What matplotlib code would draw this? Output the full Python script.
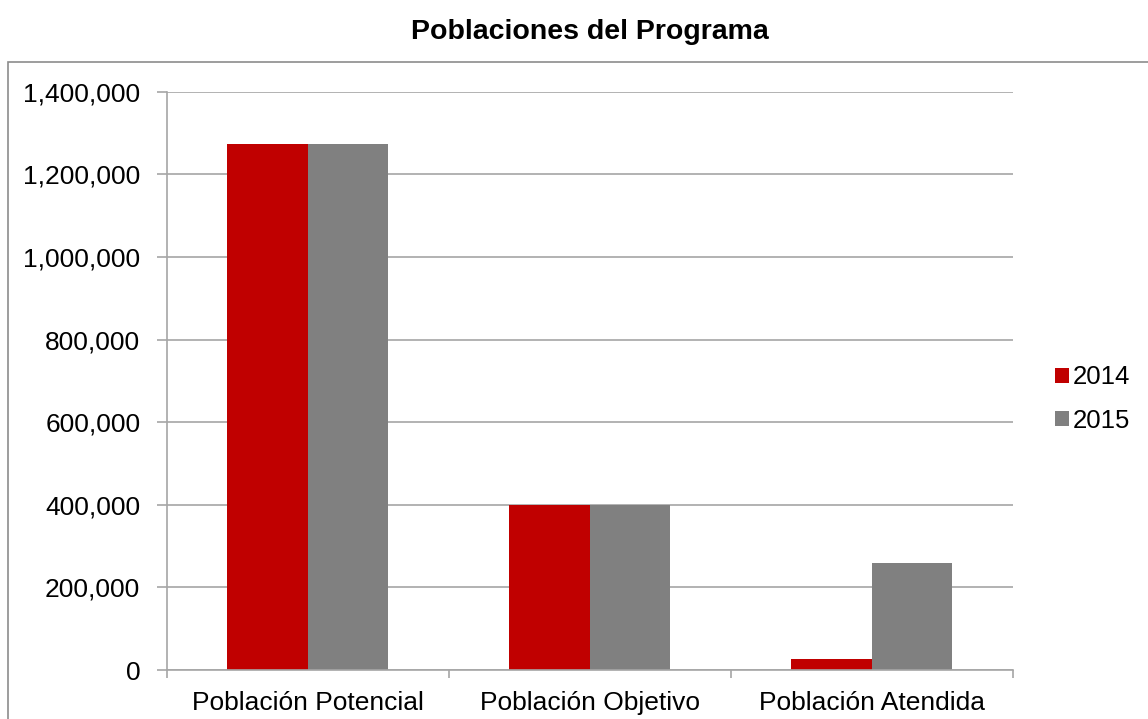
import numpy as np
import matplotlib
matplotlib.use("Agg")
import matplotlib.pyplot as plt
from matplotlib.ticker import FuncFormatter, FixedLocator
from matplotlib.patches import Rectangle

plt.rcParams['font.family'] = ['Liberation Sans', 'DejaVu Sans']

# Datos
categorias = ['Población Potencial', 'Población Objetivo', 'Población Atendida']
anios = ['2014', '2015']
valores_2014 = [1273000, 400000, 27500]
valores_2015 = [1273000, 400000, 259000]
colores = ['#C00000', '#808080']

gris = '#A6A6A6'

fig = plt.figure(figsize=(11.48, 7.19), dpi=100)

# marco del grafico (solo se ven borde superior e izquierdo)
fig.patches.append(Rectangle((8 / 1148, -0.1), 1.2, (719 - 61.7) / 719 + 0.1,
                             transform=fig.transFigure, fill=False,
                             edgecolor='#8C8C8C', linewidth=1.2))

ax = fig.add_axes([166.7 / 1148, 49 / 719, 846 / 1148, 578.3 / 719])

x = np.arange(len(categorias))
ancho = 1 / 3.5
b1 = ax.bar(x - ancho / 2, valores_2014, ancho, color=colores[0], label=anios[0])
b2 = ax.bar(x + ancho / 2, valores_2015, ancho, color=colores[1], label=anios[1])

ax.set_xlim(-0.5, 2.5)
ax.set_ylim(0, 1400000)
ax.set_yticks(np.arange(0, 1400001, 200000))
ax.yaxis.set_major_formatter(FuncFormatter(lambda v, p: f'{int(v):,}'))
ax.yaxis.grid(True, color=gris, linewidth=1.2)
ax.set_axisbelow(True)

ax.xaxis.set_major_locator(FixedLocator([-0.5, 0.5, 1.5, 2.5]))
ax.xaxis.set_major_formatter(FuncFormatter(lambda v, p: ''))
ax.xaxis.set_minor_locator(FixedLocator(x))
ax.set_xticklabels(categorias, minor=True)

ax.tick_params(axis='x', which='major', length=6, color=gris, width=1.2)
ax.tick_params(axis='x', which='minor', length=0, pad=15, labelsize=19)
ax.tick_params(axis='y', length=7, color=gris, width=1.2, pad=12, labelsize=19)

for s in ['top', 'right']:
    ax.spines[s].set_visible(False)
for s in ['left', 'bottom']:
    ax.spines[s].set_color(gris)
    ax.spines[s].set_linewidth(1.2)

fig.text(590 / 1148, 1 - 32 / 719, 'Poblaciones del Programa', ha='center', va='center',
         fontsize=20.5, fontweight='bold')

fig.legend(handles=[b1, b2], loc='center left', bbox_to_anchor=(1055 / 1148, 1 - 399 / 719),
           frameon=False, fontsize=18.5, handlelength=0.55, handleheight=0.55,
           handletextpad=0.15, labelspacing=0.75, borderaxespad=0, borderpad=0)

fig.savefig('out.png', dpi=100)
